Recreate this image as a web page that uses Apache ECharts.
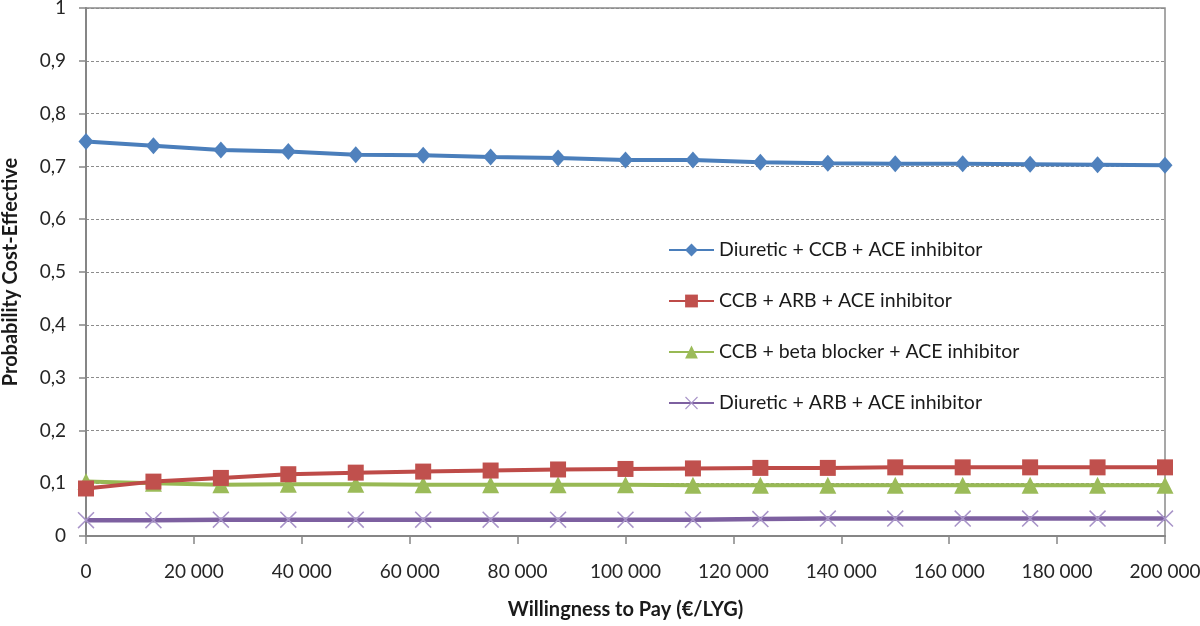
<!DOCTYPE html>
<html>
<head>
<meta charset="utf-8">
<script src="https://cdn.jsdelivr.net/npm/echarts@6/dist/echarts.min.js"></script>
<style>
html,body{margin:0;padding:0;background:#fff;}
#chart{width:1200px;height:626px;}
</style>
</head>
<body>
<div id="chart"></div>
<script>
// Willingness to pay (x values)
const wtp = [0, 12500, 25000, 37500, 50000, 62500, 75000, 87500, 100000, 112500, 125000, 137500, 150000, 162500, 175000, 187500, 200000];

// Series names
const seriesNames = [
  'Diuretic + CCB + ACE inhibitor',
  'CCB + ARB + ACE inhibitor',
  'CCB + beta blocker + ACE inhibitor',
  'Diuretic + ARB + ACE inhibitor'
];

// Probability cost-effective values
const diureticCcbAce = [0.747, 0.739, 0.731, 0.728, 0.722, 0.721, 0.718, 0.716, 0.712, 0.712, 0.708, 0.706, 0.705, 0.705, 0.704, 0.703, 0.702];
const ccbArbAce      = [0.090, 0.103, 0.110, 0.117, 0.120, 0.122, 0.124, 0.126, 0.127, 0.128, 0.129, 0.129, 0.130, 0.130, 0.130, 0.130, 0.130];
const ccbBetaAce     = [0.103, 0.100, 0.097, 0.098, 0.098, 0.097, 0.097, 0.097, 0.097, 0.096, 0.096, 0.096, 0.096, 0.096, 0.096, 0.096, 0.096];
const diureticArbAce = [0.030, 0.030, 0.031, 0.031, 0.031, 0.031, 0.031, 0.031, 0.031, 0.031, 0.032, 0.033, 0.033, 0.033, 0.033, 0.033, 0.033];

// Tick settings
const yTicks = {min: 0, max: 1, interval: 0.1};
const xTicks = {min: 0, max: 200000, interval: 20000};

const FONT = 'Lato, "Open Sans", sans-serif';
const xMark = 'path://M0,1 L1,0 L8,7 L15,0 L16,1 L9,8 L16,15 L15,16 L8,9 L1,16 L0,15 L7,8 Z';

function pairs(arr){ return wtp.map((x,i)=>[x, arr[i]]); }

const styles = [
  {line:'#4A7EBB', fill:'#4F81BD', symbol:'diamond', size:[15,17]},
  {line:'#BE4B48', fill:'#C0504D', symbol:'rect', size:16},
  {line:'#98B954', fill:'#9BBB59', symbol:'triangle', size:17},
  {line:'#7D60A0', fill:'#A894C8', symbol:xMark, size:17}
];
const dataSets = [diureticCcbAce, ccbArbAce, ccbBetaAce, diureticArbAce];

const chart = echarts.init(document.getElementById('chart'), null, {renderer:'canvas'});
chart.setOption({
  backgroundColor:'#fff',
  animation:false,
  grid:{left:86, right:35, top:8, bottom:90, outerBoundsMode:'none', containLabel:false,
    show:true, borderColor:'#8a8a8a', borderWidth:1.5, backgroundColor:'transparent'},
  legend:{
    orient:'vertical', left:663, top:235, itemGap:31, itemWidth:45, itemHeight:16,
    textStyle:{fontFamily:FONT, fontSize:19.5, color:'#1a1a1a'},
    data:seriesNames
  },
  xAxis:{
    type:'value', min:xTicks.min, max:xTicks.max, interval:xTicks.interval,
    name:'Willingness to Pay (€/LYG)', nameLocation:'middle', nameGap:64, nameMoveOverlap:false,
    nameTextStyle:{fontFamily:FONT, fontSize:20, fontWeight:'bold', color:'#1a1a1a'},
    axisLine:{lineStyle:{color:'#868686', width:2}},
    axisTick:{show:true, length:8, lineStyle:{color:'#868686', width:1.5}},
    axisLabel:{fontFamily:FONT, fontSize:19, color:'#262626', margin:26,
      formatter:v=>String(v).replace(/\B(?=(\d{3})+(?!\d))/g,' ')},
    splitLine:{show:false}
  },
  yAxis:{
    type:'value', min:yTicks.min, max:yTicks.max, interval:yTicks.interval,
    name:'Probability Cost-Effective', nameLocation:'middle', nameGap:65, nameMoveOverlap:false,
    nameTextStyle:{fontFamily:FONT, fontSize:20, fontWeight:'bold', color:'#1a1a1a'},
    axisLine:{show:true, lineStyle:{color:'#868686', width:2}},
    axisTick:{show:true, length:7, lineStyle:{color:'#868686', width:1.5}},
    axisLabel:{fontFamily:FONT, fontSize:19, color:'#262626', margin:20,
      formatter:v=>{ if(v===0) return '0'; if(Math.abs(v-1)<1e-9) return '1'; return v.toFixed(1).replace('.',','); }},
    splitLine:{show:true, lineStyle:{color:'#8c8c8c', width:1, type:[3,2]}}
  },
  series: dataSets.map((d,i)=>({
    name:seriesNames[i], type:'line', data:pairs(d),
    symbol:styles[i].symbol, symbolSize:styles[i].size,
    showSymbol:true,
    lineStyle:{color:styles[i].line, width:i===3?4.5:4},
    itemStyle:{color:styles[i].fill, borderWidth:0},
    z: 10 - i
  }))
});
</script>
</body>
</html>
